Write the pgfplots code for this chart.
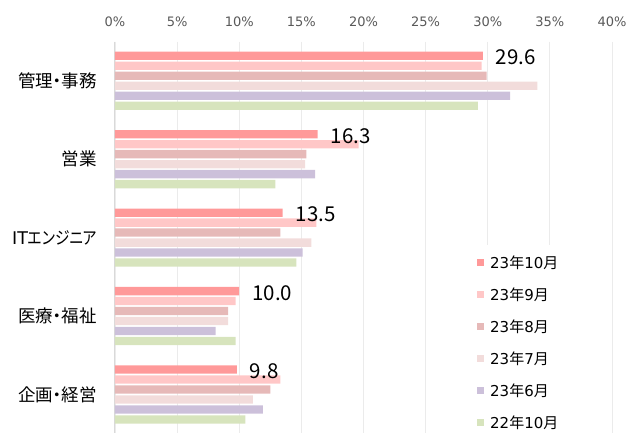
\documentclass[border=0pt]{standalone}
\usepackage{pgfplots}
\pgfplotsset{compat=1.18}
\usepackage{fontspec}
\setmainfont{DejaVu Sans}
\newfontfamily\cjk{Noto Sans CJK JP}
\newfontfamily\cjkp{Noto Sans CJK JP}[RawFeature=+palt]
\newfontfamily\lat{DejaVu Sans}
\definecolor{cA}{HTML}{FF9999}
\definecolor{cB}{HTML}{FFC7C7}
\definecolor{cC}{HTML}{E6B9B8}
\definecolor{cD}{HTML}{F2DCDB}
\definecolor{cE}{HTML}{CCC0DA}
\definecolor{cF}{HTML}{D7E4BD}
\definecolor{gridc}{HTML}{EBEBEB}
\definecolor{axc}{HTML}{D9D9D9}
\definecolor{tickc}{HTML}{595959}
\newcommand{\nen}{{\cjk 年}}
\newcommand{\tsuki}{{\cjk 月}}
\begin{document}
\begin{tikzpicture}
\begin{axis}[
  at={(0,0)}, anchor=south west,
  scale only axis, width=497pt, height=392.2pt,
  xmin=0, xmax=40, ymin=-0.5, ymax=4.5, y dir=reverse,
  axis x line*=top, axis y line*=left,
  x axis line style={draw=none},
  y axis line style={draw=axc, line width=1pt, -},
  xmajorgrids, grid style={draw=gridc, line width=0.9pt},
  major tick length=0pt,
  xtick={0,5,...,40},
  xticklabels={0\%,5\%,10\%,15\%,20\%,25\%,30\%,35\%,40\%},
  xticklabel pos=upper,
  xticklabel style={font=\fontsize{13}{15}\selectfont, text=tickc, anchor=base, inner sep=0pt, yshift=14.8pt},
  ytick={0,1,2,3,4},
  yticklabels={管理・事務,営業,{{\lat IT}\scalebox{0.84}[1]{エンジニア}},医療・福祉,企画・経営},
  yticklabel style={font=\cjkp\fontsize{17.5}{20}\selectfont, text=black, anchor=east, inner sep=0pt, xshift=-18pt},
  legend image code/.code={\fill[#1,draw=none] (0pt,2pt) rectangle (7pt,9pt);},
  legend cell align=left,
  legend style={at={(axis cs:28.57,2.094)}, anchor=north west, draw=none, fill=white,
    inner xsep=7pt, inner ysep=12.2pt, row sep=18pt, column sep=6pt,
    nodes={inner sep=0pt, text height=11pt, text depth=3pt, font=\fontsize{15}{18}\selectfont, anchor=base west}},
]
\addplot[xbar, bar width=0.106, bar shift=-0.318, fill=cA, draw=none,
  point meta=explicit symbolic, nodes near coords,
  every node near coord/.append style={anchor=west, inner sep=0pt, xshift=13pt, yshift=23.2pt, font=\cjk\fontsize{20.5}{22}\selectfont, text=black}]
  coordinates {(29.6,0) [29.6] (16.3,1) [16.3] (13.5,2) [13.5] (10.0,3) [10.0] (9.8,4) [9.8]};
\addlegendentry{23\nen10\tsuki}
\addplot[xbar, bar width=0.106, bar shift=-0.191, fill=cB, draw=none]
  coordinates {(29.5,0) (19.6,1) (16.2,2) (9.7,3) (13.3,4)};
\addlegendentry{23\nen9\tsuki}
\addplot[xbar, bar width=0.106, bar shift=-0.064, fill=cC, draw=none]
  coordinates {(29.9,0) (15.4,1) (13.3,2) (9.1,3) (12.5,4)};
\addlegendentry{23\nen8\tsuki}
\addplot[xbar, bar width=0.106, bar shift=0.064, fill=cD, draw=none]
  coordinates {(34.0,0) (15.3,1) (15.8,2) (9.1,3) (11.1,4)};
\addlegendentry{23\nen7\tsuki}
\addplot[xbar, bar width=0.106, bar shift=0.191, fill=cE, draw=none]
  coordinates {(31.8,0) (16.1,1) (15.1,2) (8.1,3) (11.9,4)};
\addlegendentry{23\nen6\tsuki}
\addplot[xbar, bar width=0.106, bar shift=0.318, fill=cF, draw=none]
  coordinates {(29.2,0) (12.9,1) (14.6,2) (9.7,3) (10.5,4)};
\addlegendentry{22\nen10\tsuki}
\end{axis}
\pgfresetboundingbox
\useasboundingbox (-115pt,1.7pt) rectangle (523pt,433.7pt);
\end{tikzpicture}
\end{document}
